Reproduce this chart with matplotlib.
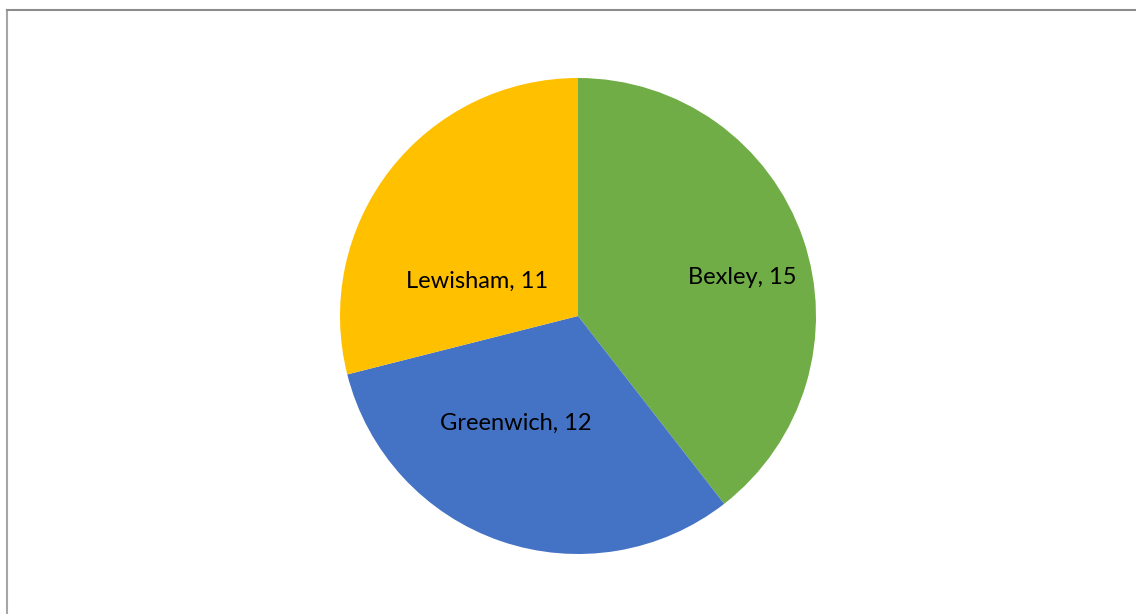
import matplotlib
matplotlib.use("Agg")
from matplotlib import pyplot as plt
from matplotlib.lines import Line2D
import numpy as np

boroughs = ["Bexley", "Greenwich", "Lewisham"]
counts = [15, 12, 11]
colours = ["#70AD47", "#4472C4", "#FFC000"]

# label placement (angle in degrees, fraction of radius) roughly as Excel's best fit
label_pos = [(13, 0.71), (-120, 0.52), (161, 0.45)]

W, H, DPI = 1136, 614, 100
fig = plt.figure(figsize=(W / DPI, H / DPI), dpi=DPI)

cx, cy, r = 578, 614 - 316, 238
ax = fig.add_axes([(cx - r) / W, (cy - r) / H, 2 * r / W, 2 * r / H])
ax.pie(counts, colors=colours, startangle=90, counterclock=False,
       radius=1, wedgeprops=dict(linewidth=0))
ax.set_xlim(-1, 1)
ax.set_ylim(-1, 1)
ax.set_aspect("equal")
ax.axis("off")

for name, val, (ang, dist) in zip(boroughs, counts, label_pos):
    a = np.deg2rad(ang)
    ax.text(dist * np.cos(a), dist * np.sin(a), f"{name}, {val}",
            ha="center", va="center", fontsize=17, family="Lato", color="black")

# chart area border (only top and left visible)
fig.add_artist(Line2D([7 / W, 7 / W], [0, 1 - 9.5 / H], transform=fig.transFigure,
                      color="#A6A6A6", linewidth=1.5))
fig.add_artist(Line2D([7 / W, 1], [1 - 9.5 / H, 1 - 9.5 / H], transform=fig.transFigure,
                      color="#8C8C8C", linewidth=1.5))

fig.savefig("out.png", dpi=DPI)
